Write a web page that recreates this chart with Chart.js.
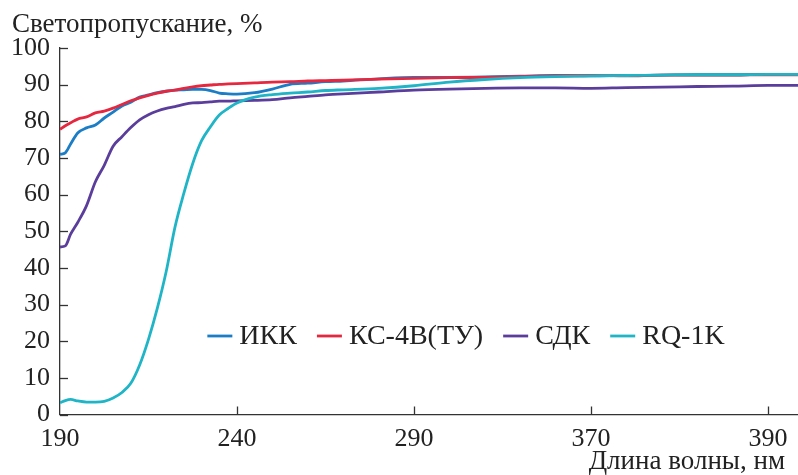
<!DOCTYPE html>
<html>
<head>
<meta charset="utf-8">
<script src="https://cdn.jsdelivr.net/npm/chart.js@4/dist/chart.umd.min.js"></script>
<style>
html,body{margin:0;padding:0;background:#fff;}
#wrap{width:798px;height:475px;}
</style>
</head>
<body>
<div id="wrap"><canvas id="c" width="798" height="475"></canvas></div>
<script>
// Tick labels of the wavelength axis (evenly spaced in the original)
const xTickLabels = [190, 240, 290, 370, 390];
// Sample positions along the axis, in tick-step units (0 = 190, 4 = 390)
const xPos = [0, 0.03, 0.06, 0.1, 0.15, 0.2, 0.25, 0.3, 0.35, 0.4, 0.45, 0.5, 0.55, 0.6, 0.65, 0.7, 0.75, 0.8, 0.85, 0.9, 0.95, 1.0, 1.1, 1.2, 1.3, 1.4, 1.5, 1.6, 1.8, 2.0, 2.2, 2.4, 2.6, 2.8, 3.0, 3.2, 3.4, 3.6, 3.8, 4.0, 4.17];

const seriesNames = ['ИКК', 'КС-4В(ТУ)', 'СДК', 'RQ-1K'];

const ikk = [71.0, 71.4, 73.8, 76.8, 78.2, 79.0, 80.9, 82.5, 84.2, 85.2, 86.6, 87.2, 87.8, 88.2, 88.5, 88.6, 88.7, 88.7, 88.4, 87.7, 87.5, 87.4, 87.8, 88.8, 90.1, 90.4, 90.8, 91.0, 91.6, 92.0, 92.0, 92.1, 92.3, 92.5, 92.4, 92.5, 92.6, 92.7, 92.7, 92.8, 92.8];
const ks4v = [77.8, 78.8, 79.6, 80.6, 81.2, 82.3, 82.8, 83.6, 84.6, 85.6, 86.4, 87.1, 87.7, 88.2, 88.5, 89.0, 89.4, 89.7, 89.9, 90.1, 90.2, 90.3, 90.5, 90.7, 90.8, 91.0, 91.1, 91.2, 91.5, 91.7, 91.9, 92.0, 92.2, 92.4, 92.5, 92.4, 92.6, 92.6, 92.6, 92.7, 92.7];
const sdk = [45.7, 46.0, 49.2, 52.4, 57.0, 63.5, 68.0, 73.2, 75.8, 78.3, 80.4, 81.8, 82.8, 83.5, 84.0, 84.6, 85.0, 85.1, 85.3, 85.5, 85.5, 85.6, 85.7, 85.9, 86.4, 86.8, 87.2, 87.5, 88.0, 88.5, 88.8, 89.0, 89.1, 89.1, 89.0, 89.2, 89.3, 89.5, 89.6, 89.8, 89.8];
const rq1k = [3.2, 3.8, 4.1, 3.7, 3.4, 3.4, 3.6, 4.5, 6.0, 8.5, 13.5, 20.5, 29.0, 39.0, 51.2, 60.4, 68.5, 74.7, 78.5, 81.7, 83.5, 85.0, 86.6, 87.3, 87.7, 88.0, 88.4, 88.6, 89.0, 89.7, 90.7, 91.4, 91.9, 92.2, 92.4, 92.5, 92.6, 92.7, 92.7, 92.8, 92.8];

const colors = ['#1a7dc6', '#e5283f', '#5b3e9c', '#1fb5c6'];
const drawOrder = [2, 1, 3, 0];

const FONT = '"Liberation Serif", "Times New Roman", serif';
const FS_TICK = 26, FS_TITLE = 27, FS_LEG = 28;

function pts(vals){ return xPos.map((x,i)=>({x:x, y:vals[i]})); }

const allSeries = [ikk, ks4v, sdk, rq1k];
const datasets = allSeries.map((s,i)=>({
  label: seriesNames[i],
  data: pts(s),
  borderColor: colors[i],
  backgroundColor: colors[i],
  borderWidth: 2.8,
  pointRadius: 0,
  fill: false,
  cubicInterpolationMode: 'monotone',
  order: drawOrder[i]
}));

const extras = {
  id: 'extras',
  afterDraw(chart){
    const ctx = chart.ctx;
    const ca = chart.chartArea;
    const xs = chart.scales.x, ys = chart.scales.y;
    ctx.save();
    // inward tick marks
    ctx.strokeStyle = '#333';
    ctx.lineWidth = 1.3;
    ys.ticks.forEach(t=>{
      const y = Math.round(ys.getPixelForValue(t.value))+0.5;
      ctx.beginPath(); ctx.moveTo(ca.left, y); ctx.lineTo(ca.left+8, y); ctx.stroke();
    });
    xs.ticks.forEach(t=>{
      if (t.value === 0) return;
      const x = Math.round(xs.getPixelForValue(t.value))+0.5;
      ctx.beginPath(); ctx.moveTo(x, ca.bottom); ctx.lineTo(x, ca.bottom-8); ctx.stroke();
    });
    // axis titles
    ctx.fillStyle = '#222';
    ctx.font = FS_TITLE + 'px ' + FONT;
    ctx.textBaseline = 'alphabetic';
    ctx.textAlign = 'left';
    ctx.fillText('Светопропускание, %', 12, 32);
    ctx.textAlign = 'right';
    ctx.fillText('Длина волны, нм', 785, 469);
    // legend
    ctx.font = FS_LEG + 'px ' + FONT;
    ctx.textAlign = 'left';
    ctx.textBaseline = 'middle';
    const sw = 25, g1 = 7, g2 = 20;
    let total = 0;
    const widths = seriesNames.map(n=>ctx.measureText(n).width);
    widths.forEach(w=>{ total += sw + g1 + w; });
    total += g2*(seriesNames.length-1);
    let x = 466 - total/2;
    const ly = 336;
    seriesNames.forEach((n,i)=>{
      ctx.strokeStyle = colors[i];
      ctx.lineWidth = 2.8;
      ctx.beginPath(); ctx.moveTo(x, ly); ctx.lineTo(x+sw, ly); ctx.stroke();
      ctx.fillStyle = '#222';
      ctx.fillText(n, x+sw+g1, ly+1);
      x += sw + g1 + widths[i] + g2;
    });
    ctx.restore();
  }
};

new Chart(document.getElementById('c'), {
  type: 'line',
  data: { datasets },
  options: {
    responsive: false,
    devicePixelRatio: 1,
    animation: false,
    layout: { padding: { top: 48, right: 0, left: 0, bottom: 0 } },
    plugins: { legend: { display: false }, tooltip: { enabled: false } },
    scales: {
      x: {
        type: 'linear',
        min: 0, max: 4.17,
        grid: { display: true, drawOnChartArea: false, drawTicks: false },
        border: { display: true, color: '#333', width: 1.3 },
        ticks: {
          stepSize: 1, includeBounds: false, padding: 9,
          color: '#222', font: { family: FONT, size: FS_TICK },
          maxRotation: 0, autoSkip: false,
          callback: (v)=> Number.isInteger(v) ? String(xTickLabels[v]) : ''
        },
        afterFit(s){ s.height = 60.5; }
      },
      y: {
        min: 0, max: 100,
        grid: { display: true, drawOnChartArea: false, drawTicks: false },
        border: { display: true, color: '#333', width: 1.3 },
        ticks: { stepSize: 10, padding: 10, color: '#222', font: { family: FONT, size: FS_TICK } },
        afterFit(s){ s.width = 60; }
      }
    }
  },
  plugins: [extras]
});
</script>
</body>
</html>
